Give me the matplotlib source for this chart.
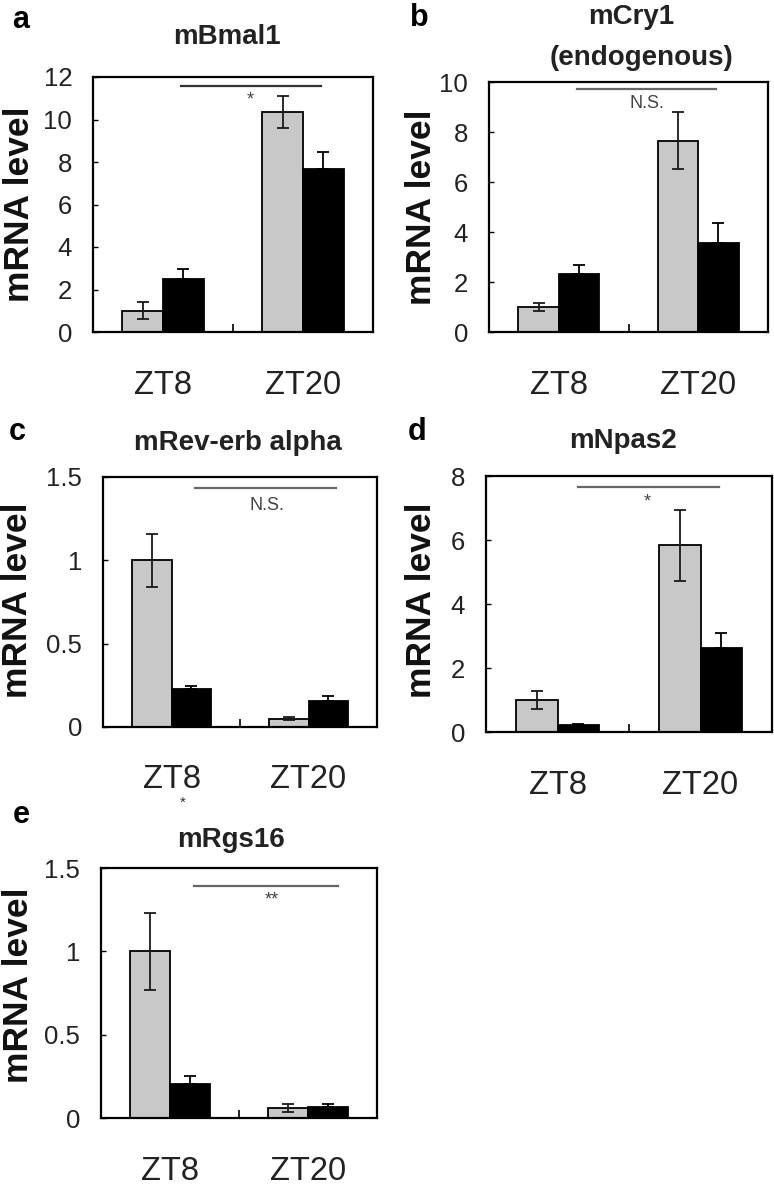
import matplotlib
matplotlib.use("Agg")
import matplotlib.pyplot as plt
from matplotlib.ticker import FuncFormatter

plt.rcParams['font.family'] = ['Liberation Sans', 'DejaVu Sans']

# ---------------- data ----------------
groups = ["ZT8", "ZT20"]

bmal1_gray = [1.0, 10.35]
bmal1_gray_err = [0.4, 0.75]
bmal1_black = [2.5, 7.65]
bmal1_black_err = [0.45, 0.8]

cry1_gray = [1.0, 7.66]
cry1_gray_err = [0.15, 1.14]
cry1_black = [2.32, 3.56]
cry1_black_err = [0.35, 0.8]

reverb_gray = [1.0, 0.05]
reverb_gray_err = [0.16, 0.01]
reverb_black = [0.226, 0.154]
reverb_black_err = [0.02, 0.03]

npas2_gray = [1.0, 5.83]
npas2_gray_err = [0.28, 1.1]
npas2_black = [0.21, 2.62]
npas2_black_err = [0.05, 0.47]

rgs16_gray = [1.0, 0.06]
rgs16_gray_err = [0.23, 0.024]
rgs16_black = [0.204, 0.066]
rgs16_black_err = [0.05, 0.02]

yticks_a = [0, 2, 4, 6, 8, 10, 12]
yticks_b = [0, 2, 4, 6, 8, 10]
yticks_c = [0, 0.5, 1, 1.5]
yticks_d = [0, 2, 4, 6, 8]
yticks_e = [0, 0.5, 1, 1.5]

W, H = 774, 1185
fig = plt.figure(figsize=(W / 100, H / 100), dpi=100)


def px_axes(left, top, right, bottom):
    return fig.add_axes([left / W, 1 - bottom / H, (right - left) / W, (bottom - top) / H])


def ftext(x, y, s, **kw):
    fig.text(x / W, 1 - y / H, s, **kw)


def panel(box, gray, gray_err, black, black_err, yticks, sig_y, sig_x0, sig_x1,
          sig_text, sig_tx, sig_ty, sig_color, sig_fs):
    ax = px_axes(*box)
    x = list(range(len(groups)))
    bw = 0.29
    ekw = dict(elinewidth=1.3, capthick=1.3, ecolor='#1a1a1a')
    ax.bar([i - bw / 2 for i in x], gray, bw, color='#c8c8c8', edgecolor='black',
           linewidth=1.3, yerr=gray_err, capsize=4, error_kw=ekw, zorder=2)
    ax.bar([i + bw / 2 for i in x], black, bw, color='black', edgecolor='black',
           linewidth=1.3, yerr=[[0] * len(black_err), black_err], capsize=4,
           error_kw=dict(ekw, ecolor='black'), zorder=2)
    ax.set_xlim(-0.5, 1.5)
    ax.set_ylim(yticks[0], yticks[-1])
    ax.set_yticks(yticks)
    ax.yaxis.set_major_formatter(FuncFormatter(lambda v, p: f"{v:g}"))
    ax.set_xticks(x)
    ax.set_xticklabels(groups, fontsize=23.5, color='#222222')
    ax.set_xticks([0.5], minor=True)
    ax.tick_params(axis='x', which='major', length=0, pad=27)
    ax.tick_params(axis='x', which='minor', direction='in', length=6, width=1.2)
    ax.tick_params(axis='y', direction='in', length=3.5, width=1.0, pad=15,
                   labelsize=18.5, labelcolor='#222222')
    for sp in ax.spines.values():
        sp.set_linewidth(1.6)
    ax.plot([sig_x0, sig_x1], [sig_y, sig_y], color=sig_color, lw=1.6, zorder=3)
    ax.text(sig_tx, sig_ty, sig_text, ha='center', va='center', fontsize=sig_fs,
            color='#444444')
    return ax


# a
panel((93, 77, 373, 332), bmal1_gray, bmal1_gray_err, bmal1_black, bmal1_black_err,
      yticks_a, 11.56, 0.13, 1.13, "*", 0.62, 10.9, '#333333', 13)
# b
panel((489, 82, 768, 332), cry1_gray, cry1_gray_err, cry1_black, cry1_black_err,
      yticks_b, 9.72, 0.13, 1.13, "N.S.", 0.63, 9.16, '#666666', 13)
# c
panel((103, 477, 377, 727), reverb_gray, reverb_gray_err, reverb_black, reverb_black_err,
      yticks_c, 1.434, 0.17, 1.2, "N.S.", 0.70, 1.33, '#666666', 13)
# d
panel((486, 476, 772, 732), npas2_gray, npas2_gray_err, npas2_black, npas2_black_err,
      yticks_d, 7.66, 0.14, 1.13, "*", 0.63, 7.2, '#666666', 13)
# e
panel((101, 868, 377, 1118), rgs16_gray, rgs16_gray_err, rgs16_black, rgs16_black_err,
      yticks_e, 1.395, 0.175, 1.22, "**", 0.735, 1.31, '#666666', 13)

# small asterisk under ZT8 label of panel c
ftext(182.7, 803, "*", ha='center', va='center', fontsize=11, color='#333333')

# y labels
for (xx, yy) in [(20, 204), (421.7, 207), (17.5, 600), (421.7, 600), (18.3, 985)]:
    ftext(xx, yy, "mRNA level", rotation=90, ha='center', va='center',
          fontsize=25.5, fontweight='bold', color='#111111')

# titles
tkw = dict(ha='center', va='center', fontsize=20, fontweight='bold', color='#222222')
ftext(226.7, 37, "mBmal1", **tkw)
ftext(630.7, 17, "mCry1", **tkw)
ftext(641.7, 58, "(endogenous)", **tkw)
ftext(238, 443, "mRev-erb alpha", **tkw)
ftext(623, 441, "mNpas2", **tkw)
ftext(230.7, 840, "mRgs16", **tkw)

# panel letters
lkw = dict(ha='center', va='center', fontsize=22, fontweight='bold', color='black')
ftext(21, 20, "a", **lkw)
ftext(419, 18, "b", **lkw)
ftext(17, 432, "c", **lkw)
ftext(417, 432, "d", **lkw)
ftext(21, 815, "e", **lkw)

fig.savefig("out.png", dpi=100)
